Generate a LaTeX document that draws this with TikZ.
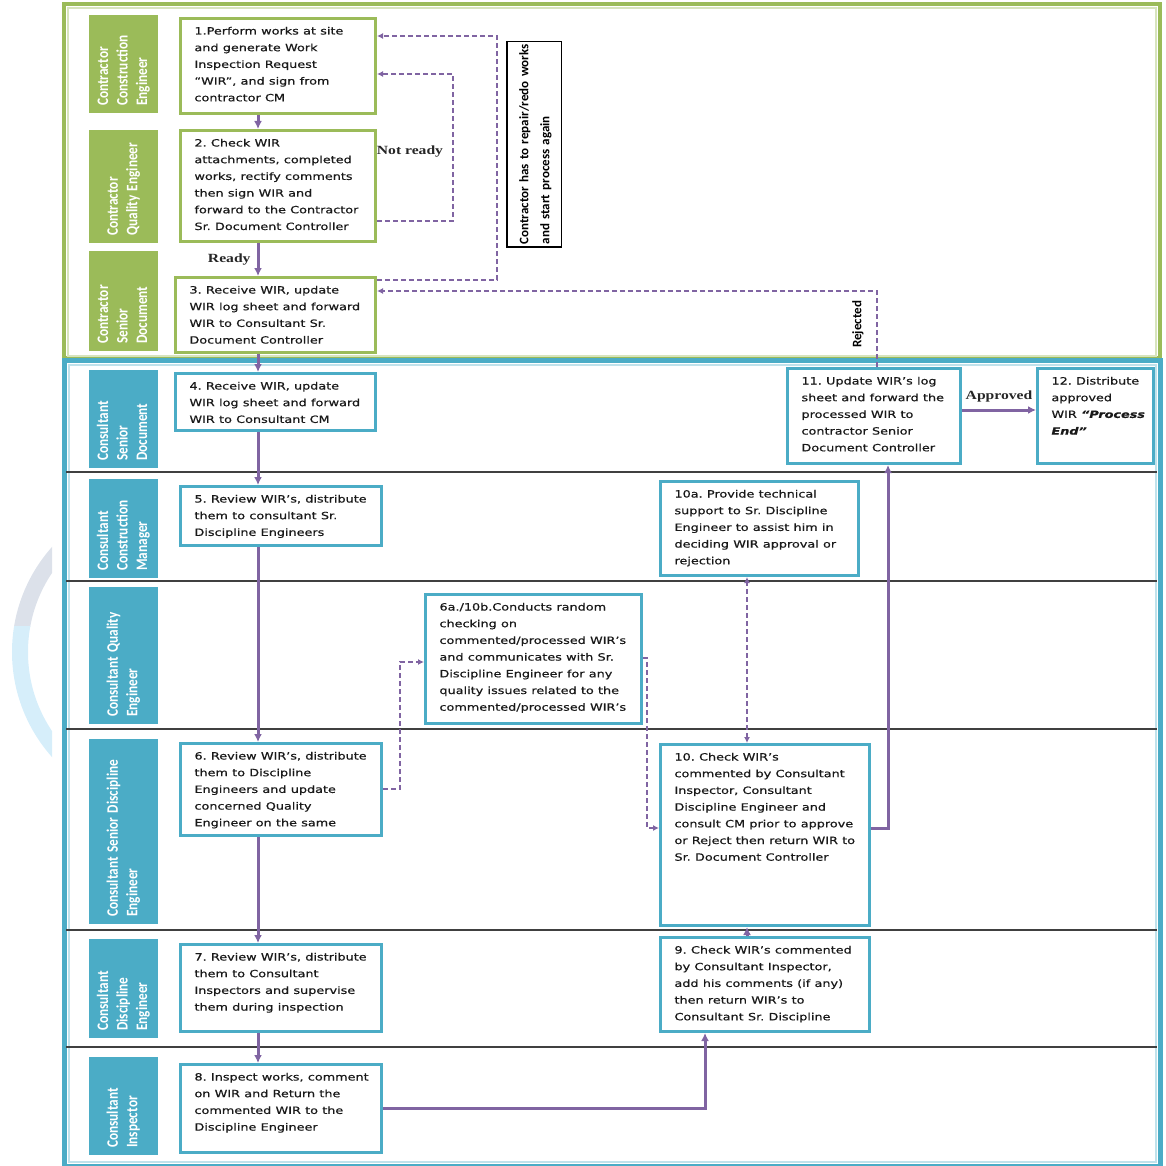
\documentclass[tikz,border=0pt]{standalone}
\usepackage{graphicx}
\usepackage{fontspec}
\setmainfont{DejaVu Sans}
\newfontfamily\wirfont{DejaVu Sans}[FakeBold=0.5]
\newfontfamily\lanefont{Carlito}
\newfontfamily\tagfont{Liberation Serif}
\usetikzlibrary{arrows.meta,calc}
\frenchspacing

\definecolor{ctrgreen}{HTML}{9BBB59}
\definecolor{consblue}{HTML}{4BACC6}
\definecolor{flowpurple}{HTML}{8064A2}
\definecolor{ringgray}{HTML}{DCE1EA}
\definecolor{ringblue}{HTML}{D6EEFA}

\newcommand{\wirlines}[1]{\scalebox{1.28}[1]{\begin{tabular}[t]{@{}l@{}}#1\end{tabular}}}
\newcommand{\lanelines}[1]{\scalebox{0.83}[1]{\begin{tabular}{@{}l@{}}#1\end{tabular}}}
\newcommand{\tagtext}[1]{\scalebox{1.25}[1]{#1}}

\begin{document}
\begin{tikzpicture}[x=1pt,y=-1pt,
  wirbox/.style 2 args={draw, line width=3pt, fill=white, anchor=north west,
    inner xsep=14pt, inner ysep=0pt, text width=#1, text height=16pt,
    text depth=#2, align=left, text=black!90,
    font=\wirfont\fontsize{10pt}{16.7pt}\selectfont},
  ctrbox/.style 2 args={wirbox={#1}{#2}, draw=ctrgreen},
  cstbox/.style 2 args={wirbox={#1}{#2}, draw=consblue},
  lane/.style={rotate=90, anchor=north west, minimum height=69pt,
    inner xsep=7pt, inner ysep=0pt, text width=#1, align=left, text=white,
    font=\lanefont\bfseries\fontsize{16pt}{19.5pt}\selectfont},
  ctrlane/.style={lane=#1, fill=ctrgreen},
  cstlane/.style={lane=#1, fill=consblue},
  flow/.style={flowpurple, line width=3pt, -{Latex[length=8pt,width=8pt]}},
  recheck/.style={flowpurple, line width=1.3pt, dash pattern=on 5pt off 3pt,
    -{Latex[length=6pt,width=6pt]}},
  tag/.style={inner sep=0pt, text=black!85,
    font=\tagfont\bfseries\fontsize{12.5pt}{14pt}\selectfont},
  laneline/.style={black!75, line width=1.5pt}]

  \useasboundingbox (0,0) rectangle (1165,1166);

  % faint ring on the left margin
  \begin{scope}
    \clip (0,500) rectangle (52,626);
    \draw[ringgray, line width=16pt] (170,652) circle[radius=150];
  \end{scope}
  \begin{scope}
    \clip (0,626) rectangle (52,800);
    \draw[ringblue, line width=16pt] (170,652) circle[radius=150];
  \end{scope}

  % pools
  \draw[ctrgreen, line width=4pt] (64,4) rectangle (1160,358);
  \draw[ctrgreen!40, line width=2pt] (68,8) rectangle (1156,356);
  \draw[consblue, line width=5pt] (64.5,360) rectangle (1160,1166.5);
  \draw[consblue!35, line width=2pt] (69,364.5) rectangle (1155.5,1162);
  \foreach \ly in {472,581,729,930,1047}
    \draw[laneline] (66,\ly) -- (1157,\ly);

  % lanes
  \node[ctrlane=84pt] (l1) at (89,113) {\lanelines{Contractor\\Construction\\Engineer}};
  \node[ctrlane=99pt] (l2) at (89,243) {\lanelines{Contractor\\Quality Engineer}};
  \node[ctrlane=86pt] (l3) at (89,351) {\lanelines{Contractor\\Senior\\Document}};
  \node[cstlane=84pt] (l4) at (89,468) {\lanelines{Consultant\\Senior\\Document}};
  \node[cstlane=85pt] (l5) at (89,578) {\lanelines{Consultant\\Construction\\Manager}};
  \node[cstlane=123pt] (l6) at (89,724) {\lanelines{Consultant Quality\\Engineer}};
  \node[cstlane=171pt] (l7) at (89,924) {\lanelines{Consultant Senior Discipline\\Engineer}};
  \node[cstlane=85pt] (l8) at (89,1038) {\lanelines{Consultant\\Discipline\\Engineer}};
  \node[cstlane=84pt] (l9) at (89,1155) {\lanelines{Consultant\\Inspector}};

  % steps
  \node[ctrbox={167pt}{79pt}] (b1) at (179,17) {\wirlines{1.Perform works at site\\and generate Work\\Inspection Request\\“WIR”, and sign from\\contractor CM}};
  \node[ctrbox={167pt}{95pt}] (b2) at (179,129) {\wirlines{2. Check WIR\\attachments, completed\\works, rectify comments\\then sign WIR and\\forward to the Contractor\\Sr. Document Controller}};
  \node[ctrbox={172pt}{59pt}] (b3) at (174,276) {\wirlines{3. Receive WIR, update\\WIR log sheet and forward\\WIR to Consultant Sr.\\Document Controller}};
  \node[cstbox={172pt}{41pt}] (b4) at (174,372) {\wirlines{4. Receive WIR, update\\WIR log sheet and forward\\WIR to Consultant CM}};
  \node[cstbox={173pt}{43pt}] (b5) at (179,485) {\wirlines{5. Review WIR’s, distribute\\them to consultant Sr.\\Discipline Engineers}};
  \node[cstbox={188pt}{113pt}] (b6a) at (424,593) {\wirlines{6a./10b.Conducts random\\checking on\\commented/processed WIR’s\\and communicates with Sr.\\Discipline Engineer for any\\quality issues related to the\\commented/processed WIR’s}};
  \node[cstbox={173pt}{76pt}] (b6) at (179,742) {\wirlines{6. Review WIR’s, distribute\\them to Discipline\\Engineers and update\\concerned Quality\\Engineer on the same}};
  \node[cstbox={173pt}{71pt}] (b7) at (179,943) {\wirlines{7. Review WIR’s, distribute\\them to Consultant\\Inspectors and supervise\\them during inspection}};
  \node[cstbox={173pt}{72pt}] (b8) at (179,1063) {\wirlines{8. Inspect works, comment\\on WIR and Return the\\commented WIR to the\\Discipline Engineer}};
  \node[cstbox={181pt}{78pt}] (b9) at (659,936) {\wirlines{9. Check WIR’s commented\\by Consultant Inspector,\\add his comments (if any)\\then return WIR’s to\\Consultant Sr. Discipline}};
  \node[cstbox={181pt}{165pt}] (b10) at (659,743) {\wirlines{10. Check WIR’s\\commented by Consultant\\Inspector, Consultant\\Discipline Engineer and\\consult CM prior to approve\\or Reject then return WIR to\\Sr. Document Controller}};
  \node[cstbox={170pt}{78pt}] (b10a) at (659,480) {\wirlines{10a. Provide technical\\support to Sr. Discipline\\Engineer to assist him in\\deciding WIR approval or\\rejection}};
  \node[cstbox={145pt}{79pt}] (b11) at (786,367) {\wirlines{11. Update WIR’s log\\sheet and forward the\\processed WIR to\\contractor Senior\\Document Controller}};
  \node[cstbox={88pt}{79pt}] (b12) at (1036,367) {\wirlines{12. Distribute\\approved\\WIR \textbf{\textit{“Process}}\\\textbf{\textit{End”}}}};

  \node[rotate=90, anchor=north west, draw=black, line width=1.2pt,
    minimum height=54pt, text width=201pt, inner xsep=2pt, inner ysep=0pt,
    align=left, font=\lanefont\bfseries\fontsize{13pt}{21pt}\selectfont]
    (redobox) at (507,247) {\begin{tabular}{@{}l@{}}Contractor has to repair/redo works\\and start process again\end{tabular}};
  \draw[line width=2.5pt] (redobox.north east) -- (redobox.north west) -- (redobox.south west);

  % main flow
  \coordinate (spine) at (258,0);
  \draw[flow] (b1.south -| spine) -- (b2.north -| spine);
  \draw[flow] (b2.south -| spine) -- node[tag, left=6pt] (ready) {\tagtext{Ready}} (b3.north -| spine);
  \draw[flow] (b3.south -| spine) -- (b4.north -| spine);
  \draw[flow] (b4.south -| spine) -- (b5.north -| spine);
  \draw[flow] (b5.south -| spine) -- (b6.north -| spine);
  \draw[flow] (b6.south -| spine) -- (b7.north -| spine);
  \draw[flow] (b7.south -| spine) -- (b8.north -| spine);
  \draw[flow] (b8.east) -| ($(b9.south west)+(46,0)$);
  \draw[flow] ($(b9.north west)+(88,0)$) -- ($(b10.south west)+(88,0)$);
  \draw[flow] ($(b10.north east)+(0,85)$) -| ($(b11.south west)+(102,0)$);
  \draw[flow] ($(b11.north east)+(0,43)$) -- node[tag, above=6pt] (approved) {\tagtext{Approved}} ($(b12.north west)+(0,43)$);

  % returns and checks
  \coordinate (rework) at (497,36);
  \coordinate (notreadyturn) at (453,74);
  \draw[recheck] ($(b3.north east)+(0,4)$) -| (rework) -- ($(b1.north east)+(0,19)$);
  \draw[recheck] ($(b2.south east)+(0,-22)$) -| (notreadyturn) -- ($(b1.north east)+(0,57)$);
  \node[tag] (notready) at (410,152) {\tagtext{Not ready}};
  \draw[recheck] ($(b11.north)+(3,0)$) |- ($(b3.north east)+(0,15)$);
  \node[rotate=90, anchor=west, inner sep=0pt,
    font=\lanefont\bfseries\fontsize{13pt}{15pt}\selectfont] (rejected) at (858,348) {Rejected};
  \draw[recheck] ($(b6.north east)+(0,47)$) -| ($(b6a.north west)+(-24,69)$) -- ($(b6a.north west)+(0,69)$);
  \draw[recheck] ($(b6a.north east)+(0,65)$) -| ($(b10.north west)+(-12,85)$) -- ($(b10.north west)+(0,85)$);
  \draw[recheck, {Latex[length=6pt,width=6pt]}-{Latex[length=6pt,width=6pt]}] ($(b10.north west)+(88,0)$) -- ($(b10a.south west)+(88,0)$);

\end{tikzpicture}
\end{document}
